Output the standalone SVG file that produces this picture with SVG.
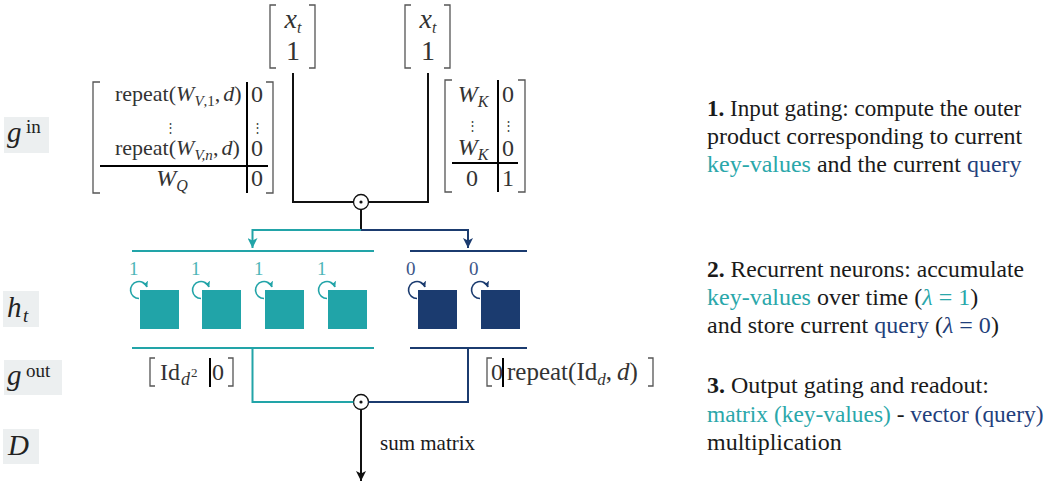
<svg xmlns="http://www.w3.org/2000/svg" width="1050" height="482" viewBox="0 0 1050 482">
  <style>
    text { font-family: "Liberation Serif", "DejaVu Serif", serif; }
    .m { font-size: 24px; fill: #333; }
    .big { font-size: 28px; fill: #333; }
    .i { font-style: italic; }
    .sub { font-size: 16px; }
    .br { fill: none; stroke: #555; stroke-width: 1.3; }
    .div { stroke: #000; stroke-width: 2; }
    .vd { font-family: "DejaVu Serif", serif; font-size: 13px; fill: #444; }
    .lbl { fill: #eceff0; }
    .lt { font-size: 29px; fill: #222; }
    .ls { font-size: 19px; fill: #222; }
    .desc { font-size: 24px; fill: #1a1a1a; }
    .teal { fill: #2aa7aa; }
    .navy { fill: #1f3f7c; }
    .wire { fill: none; stroke-width: 2; }
    .k { stroke: #111; }
    .tl { stroke: #22a4a8; }
    .nv { stroke: #1b3b6f; }
    .loop { fill: none; stroke-width: 1.6; }
    .sqT { fill: #21a4a8; }
    .sqN { fill: #1b3b6f; }
    .cT { font-size: 19px; fill: #4db5b7; }
    .cN { font-size: 19px; fill: #3d5688; }
  </style>
  <defs>
    <marker id="ahT" viewBox="0 0 10 10" refX="10" refY="5" markerWidth="5" markerHeight="5" orient="auto" markerUnits="strokeWidth">
      <path d="M0,0 L10,5 L0,10 L2.5,5 z" fill="#22a4a8"/>
    </marker>
    <marker id="ahN" viewBox="0 0 10 10" refX="10" refY="5" markerWidth="5" markerHeight="5" orient="auto" markerUnits="strokeWidth">
      <path d="M0,0 L10,5 L0,10 L2.5,5 z" fill="#1b3b6f"/>
    </marker>
    <marker id="ahK" viewBox="0 0 10 10" refX="10" refY="5" markerWidth="5" markerHeight="5" orient="auto" markerUnits="strokeWidth">
      <path d="M0,0 L10,5 L0,10 L2.5,5 z" fill="#111"/>
    </marker>
    <marker id="lpT" viewBox="0 0 10 10" refX="9" refY="5" markerWidth="4" markerHeight="4" orient="auto" markerUnits="strokeWidth">
      <path d="M0,0 L10,5 L0,10 L2.5,5 z" fill="#22a4a8"/>
    </marker>
    <marker id="lpN" viewBox="0 0 10 10" refX="9" refY="5" markerWidth="4" markerHeight="4" orient="auto" markerUnits="strokeWidth">
      <path d="M0,0 L10,5 L0,10 L2.5,5 z" fill="#1b3b6f"/>
    </marker>
  </defs>

  <!-- row labels -->
  <g id="label-gin">
    <rect class="lbl" x="4" y="117" width="45" height="36"/>
    <text class="lt i" x="7" y="142">g</text>
    <text class="ls" x="26" y="133">in</text>
  </g>
  <g id="label-ht">
    <rect class="lbl" x="3" y="291" width="36" height="36"/>
    <text class="lt i" x="7" y="317">h</text>
    <text class="ls i" x="23" y="322">t</text>
  </g>
  <g id="label-gout">
    <rect class="lbl" x="4" y="360" width="58" height="35"/>
    <text class="lt i" x="7" y="385">g</text>
    <text class="ls" x="26" y="377">out</text>
  </g>
  <g id="label-D">
    <rect class="lbl" x="3" y="429" width="36" height="35"/>
    <text class="lt i" x="8" y="455">D</text>
  </g>

  <!-- input vectors -->
  <g id="input-left">
    <path class="br" d="M276,5 H270 V68 H276 M309,5 H315 V68 H309"/>
    <text class="big i" x="293" y="28" text-anchor="middle">x<tspan class="sub" dy="5">t</tspan></text>
    <text class="big" x="293" y="60" text-anchor="middle">1</text>
  </g>
  <g id="input-right">
    <path class="br" d="M411,5 H405 V68 H411 M444,5 H450 V68 H444"/>
    <text class="big i" x="428" y="28" text-anchor="middle">x<tspan class="sub" dy="5">t</tspan></text>
    <text class="big" x="428" y="60" text-anchor="middle">1</text>
  </g>

  <!-- input gating weights: key-values / query -->
  <g id="weights-left">
    <path class="br" d="M100,82 H93 V193 H100 M266,82 H273 V193 H266"/>
    <line class="div" x1="247" y1="82" x2="247" y2="193"/>
    <line class="div" x1="100" y1="166" x2="268" y2="166" stroke-width="1.6"/>
    <text class="m" x="115" y="101" style="font-size:22px">repeat(<tspan class="i">W</tspan><tspan class="i" style="font-size:15px" dy="5">V</tspan><tspan style="font-size:15px">,1</tspan><tspan dy="-5">,</tspan><tspan class="i" dx="3">d</tspan>)</text>
    <text class="vd" x="170" y="132" text-anchor="middle">⋮</text>
    <text class="m" x="115" y="155" style="font-size:22px">repeat(<tspan class="i">W</tspan><tspan class="i" style="font-size:15px" dy="5">V,n</tspan><tspan dy="-5">,</tspan><tspan class="i" dx="3">d</tspan>)</text>
    <text class="m i" x="172" y="186" text-anchor="middle">W<tspan class="sub" dy="5">Q</tspan></text>
    <text class="m" x="257" y="102" text-anchor="middle">0</text>
    <text class="vd" x="257" y="132" text-anchor="middle">⋮</text>
    <text class="m" x="257" y="156" text-anchor="middle">0</text>
    <text class="m" x="257" y="186" text-anchor="middle">0</text>
  </g>
  <g id="weights-right">
    <path class="br" d="M452,80 H445 V192 H452 M518,80 H525 V192 H518"/>
    <line class="div" x1="498" y1="80" x2="498" y2="192"/>
    <line class="div" x1="452" y1="163" x2="518" y2="163" stroke-width="1.6"/>
    <text class="m i" x="473" y="102" text-anchor="middle">W<tspan class="sub" dy="5">K</tspan></text>
    <text class="vd" x="472" y="130" text-anchor="middle">⋮</text>
    <text class="m i" x="473" y="155" text-anchor="middle">W<tspan class="sub" dy="5">K</tspan></text>
    <text class="m" x="472" y="186" text-anchor="middle">0</text>
    <text class="m" x="508" y="102" text-anchor="middle">0</text>
    <text class="vd" x="508" y="130" text-anchor="middle">⋮</text>
    <text class="m" x="508" y="156" text-anchor="middle">0</text>
    <text class="m" x="508" y="186" text-anchor="middle">1</text>
  </g>

  <!-- recurrent neurons -->
  <g id="neurons-keyvalues">
    <line class="wire tl" x1="132" y1="251" x2="374" y2="251"/>
    <line class="wire tl" x1="132" y1="348" x2="374" y2="348"/>
    <text class="cT" x="129" y="275">1</text>
    <text class="cT" x="191" y="275">1</text>
    <text class="cT" x="254" y="275">1</text>
    <text class="cT" x="317" y="275">1</text>
    <path class="loop tl" marker-end="url(#lpT)" d="M139,298.5 A8.5,8.5 0 1 1 147,287"/>
    <path class="loop tl" marker-end="url(#lpT)" d="M201,298.5 A8.5,8.5 0 1 1 209,287"/>
    <path class="loop tl" marker-end="url(#lpT)" d="M264,298.5 A8.5,8.5 0 1 1 272,287"/>
    <path class="loop tl" marker-end="url(#lpT)" d="M327,298.5 A8.5,8.5 0 1 1 335,287"/>
    <rect class="sqT" x="140" y="290" width="39" height="39"/>
    <rect class="sqT" x="202" y="290" width="39" height="39"/>
    <rect class="sqT" x="265" y="290" width="39" height="39"/>
    <rect class="sqT" x="328" y="290" width="39" height="39"/>
  </g>
  <g id="neurons-query">
    <line class="wire nv" x1="410" y1="251" x2="527" y2="251"/>
    <line class="wire nv" x1="410" y1="348" x2="527" y2="348"/>
    <text class="cN" x="406" y="275">0</text>
    <text class="cN" x="469" y="275">0</text>
    <path class="loop nv" marker-end="url(#lpN)" d="M417,298.5 A8.5,8.5 0 1 1 425,287"/>
    <path class="loop nv" marker-end="url(#lpN)" d="M480,298.5 A8.5,8.5 0 1 1 488,287"/>
    <rect class="sqN" x="418" y="290" width="39" height="39"/>
    <rect class="sqN" x="481" y="290" width="39" height="39"/>
  </g>

  <!-- output gating weights -->
  <g id="readout-left">
    <path class="br" d="M155,358 H150 V386 H155 M228,358 H233 V386 H228"/>
    <line class="div" x1="210" y1="358" x2="210" y2="387"/>
    <text class="m" x="160" y="380">Id<tspan class="i" style="font-size:18px" dx="1" dy="5">d</tspan><tspan style="font-size:13px" dx="1" dy="-8">2</tspan></text>
    <text class="m" x="218" y="380" text-anchor="middle">0</text>
  </g>
  <g id="readout-right">
    <path class="br" d="M492,358 H487 V386 H492 M648,358 H653 V386 H648"/>
    <line class="div" x1="503" y1="358" x2="503" y2="387"/>
    <text class="m" x="497" y="380" text-anchor="middle">0</text>
    <text class="m" x="507" y="380" style="font-size:25px">repeat(Id<tspan class="i" style="font-size:17px" dy="5">d</tspan><tspan dy="-5">,</tspan><tspan class="i" dx="5">d</tspan>)</text>
  </g>

  <!-- products -->
  <g id="product-in">
    <circle cx="361" cy="202" r="7.5" fill="#fff" stroke="#111" stroke-width="1.3"/>
    <circle cx="361" cy="202" r="1.6" fill="#111"/>
  </g>
  <g id="product-out">
    <circle cx="361" cy="402" r="7.5" fill="#fff" stroke="#111" stroke-width="1.3"/>
    <circle cx="361" cy="402" r="1.6" fill="#111"/>
  </g>

  <!-- connectors -->
  <g id="connectors">
    <path class="wire k" d="M293,73 V202 H353.5"/>
    <path class="wire k" d="M428,73 V202 H368.5"/>
    <line class="wire k" x1="361" y1="209.5" x2="361" y2="231"/>
    <path class="wire tl" d="M361,230 H252.5 V248" marker-end="url(#ahT)"/>
    <path class="wire nv" d="M361,230 H468 V248" marker-end="url(#ahN)"/>
    <path class="wire tl" d="M252.5,348 V402 H353.5"/>
    <path class="wire nv" d="M468,348 V402 H368.5"/>
    <line class="wire k" x1="361" y1="409.5" x2="361" y2="481" marker-end="url(#ahK)"/>
    <text x="380" y="450" font-size="21" fill="#1a1a1a">sum matrix</text>
  </g>

  <!-- stage descriptions -->
  <g id="desc-1">
    <text class="desc" x="707" y="116" style="font-size:23.1px"><tspan font-weight="bold">1.</tspan> Input gating: compute the outer</text>
    <text class="desc" x="707" y="144">product corresponding to current</text>
    <text class="desc" x="707" y="172"><tspan class="teal">key-values</tspan> and the current <tspan class="navy">query</tspan></text>
  </g>
  <g id="desc-2">
    <text class="desc" x="707" y="277" style="font-size:23.6px"><tspan font-weight="bold">2.</tspan> Recurrent neurons: accumulate</text>
    <text class="desc" x="707" y="305"><tspan class="teal">key-values</tspan> over time (<tspan class="teal"><tspan font-style="italic">λ</tspan> = 1</tspan>)</text>
    <text class="desc" x="707" y="333">and store current <tspan class="navy">query</tspan> (<tspan class="navy"><tspan font-style="italic">λ</tspan> = 0</tspan>)</text>
  </g>
  <g id="desc-3">
    <text class="desc" x="707" y="393"><tspan font-weight="bold">3.</tspan> Output gating and readout:</text>
    <text class="desc" x="707" y="422" style="font-size:23.4px"><tspan class="teal">matrix (key-values)</tspan> - <tspan class="navy">vector (query)</tspan></text>
    <text class="desc" x="707" y="450">multiplication</text>
  </g>
</svg>
